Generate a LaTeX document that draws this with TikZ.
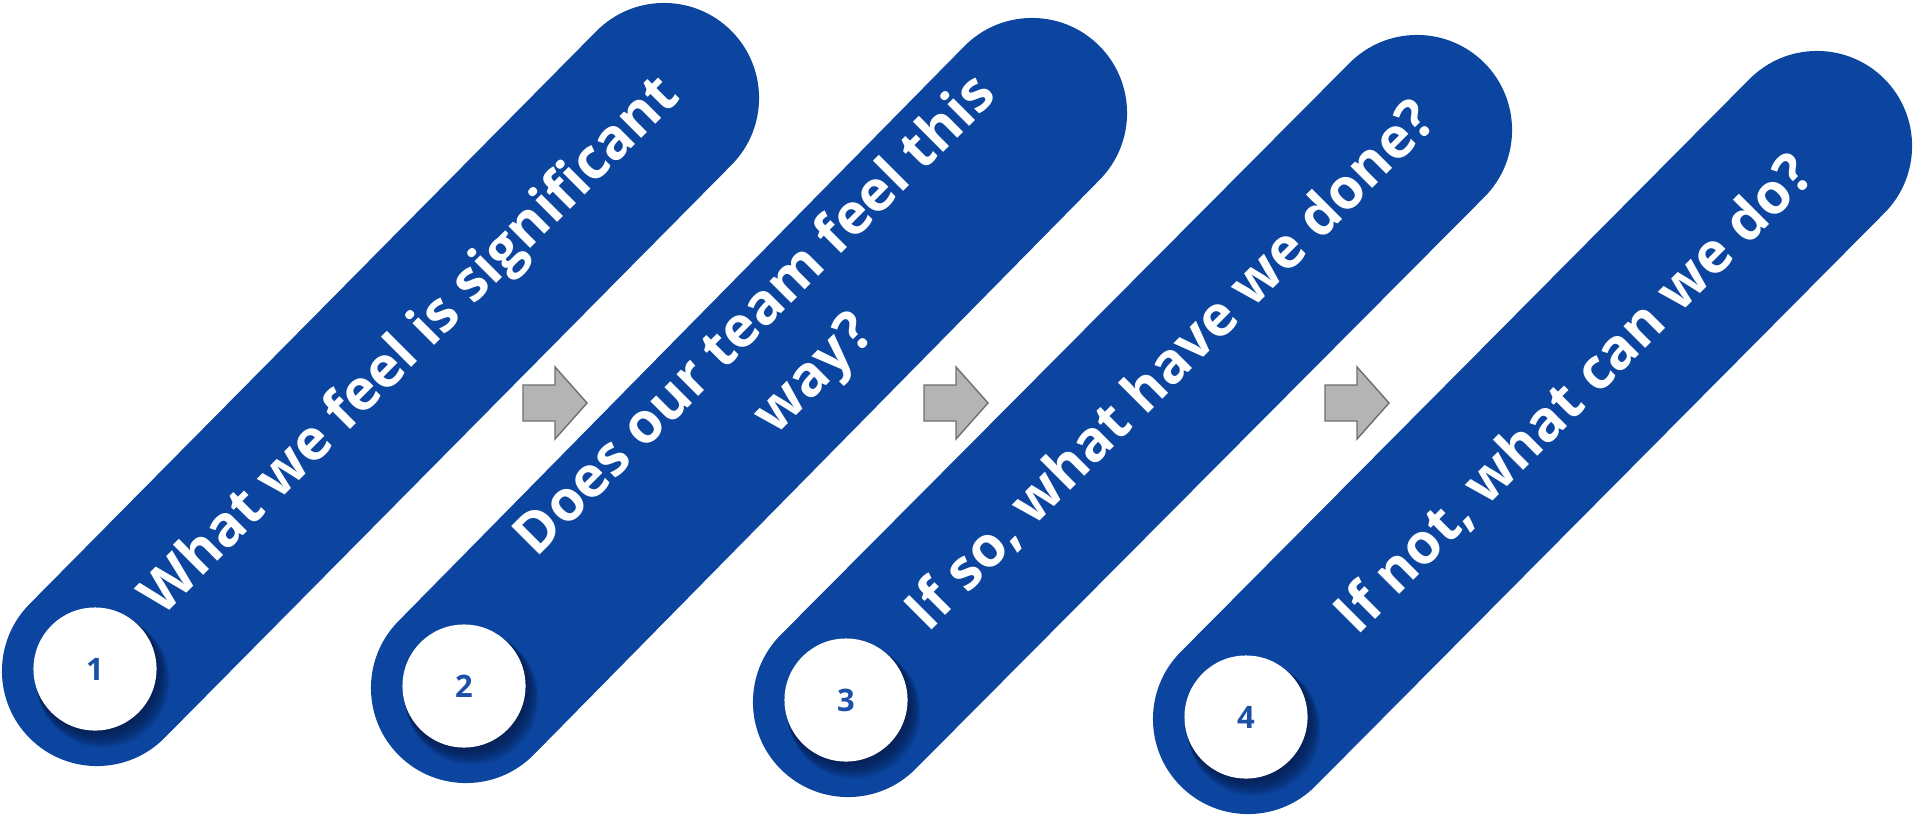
\documentclass[tikz,border=0pt]{standalone}
\usepackage{fontspec}
\setmainfont{Open Sans}
\usetikzlibrary{calc}
\definecolor{barblue}{HTML}{0B45A0}
\definecolor{numblue}{HTML}{1C4FA6}
\definecolor{shadenavy}{HTML}{061A45}
\definecolor{arrowgray}{HTML}{B4B4B4}
\definecolor{arrowedge}{HTML}{6F6F6F}
\begin{document}
\begin{tikzpicture}[x=0.01cm, y=-0.01cm,
        bar/.style={draw=barblue, line width=1.9cm, line cap=round},
        numdot/.style={circle, fill=white, minimum size=1.23cm, inner sep=0pt, text=numblue, font=\bfseries\fontsize{8.8}{10}\selectfont},
        qtext/.style={text=white, rotate=45, align=center, font=\bfseries\fontsize{16}{23.5}\selectfont}]
    \useasboundingbox (0,0) rectangle (1913,815);
    \coordinate (l1) at (97,671);   \coordinate (u1) at (664,98);
    \coordinate (l2) at (466,688);  \coordinate (u2) at (1032,113);
    \coordinate (l3) at (848,702);  \coordinate (u3) at (1417,130);
    \coordinate (l4) at (1248,719); \coordinate (u4) at (1817,146);
    \foreach \i in {1,...,4} \draw[bar] (l\i) -- (u\i);
    \foreach \i in {1,...,4} {
        \coordinate (c\i) at ($(l\i)+(-2,-2)$);
        \foreach \k in {1,...,10}
            \fill[shadenavy, opacity=0.13] ($(c\i)+(0.8*\k,1.2*\k)$) circle[radius={61.5+0.5*\k}];
        \node[numdot] (d\i) at (c\i) {\i};
    }
    \foreach \a in {0,401,802}
        \filldraw[fill=arrowgray, draw=arrowedge, line width=0.4pt] (523+\a,385) -- (555+\a,385) -- (555+\a,367) -- (587+\a,403) -- (555+\a,439) -- (555+\a,421) -- (523+\a,421) -- cycle;
    \node[qtext] (q1) at ($(l1)!0.56!(u1)+(-3,-3)$) {What we feel is significant};
    \node[qtext] (q2) at ($(l2)!0.58!(u2)+(-8,-8)$) {Does our team feel this\\way?};
    \node[qtext] (q3) at ($(l3)!0.578!(u3)+(-6,-6)$) {If so, what have we done?};
    \node[qtext] (q4) at ($(l4)!0.57!(u4)+(2,2)$) {If not, what can we do?};
\end{tikzpicture}
\end{document}
